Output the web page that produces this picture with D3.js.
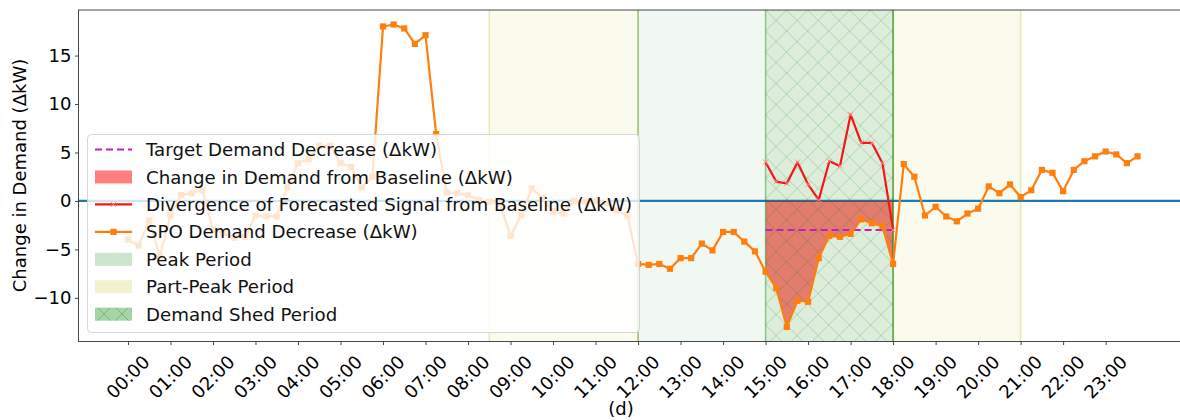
<!DOCTYPE html>
<html>
<head>
<meta charset="utf-8">
<script src="https://cdn.jsdelivr.net/npm/d3@7"></script>
<style>
  html, body { margin: 0; padding: 0; background: #fff; }
  svg { display: block; font-family: "DejaVu Sans", sans-serif; }
</style>
</head>
<body>
<svg id="chart" width="1180" height="420"></svg>
<script>
// Hour tick labels along the bottom axis
const hourLabels = ["00:00","01:00","02:00","03:00","04:00","05:00","06:00","07:00",
  "08:00","09:00","10:00","11:00","12:00","13:00","14:00","15:00","16:00","17:00",
  "18:00","19:00","20:00","21:00","22:00","23:00"];

// SPO demand decrease (ΔkW), one value every 15 minutes starting at 00:00
const spoValues = [
  -4.0, -4.6, -2.0, -5.7, -1.5, 0.6, 0.8, 1.1,
  -3.0, -3.3, -3.8, -3.7, -1.5, -1.6, -1.6, 1.4,
  3.9, 4.3, 5.7, 5.7, 3.9, 3.5, 1.4, 2.5,
  18.0, 18.2, 17.8, 16.2, 17.1, 6.9, 0.9, 0.8,
  0.6, 0.1, -0.1, -0.3, -3.6, -1.5, 1.3, 0.3,
  -1.1, -1.3, 0.0, -0.1, 0.0, -0.2, -1.0, -1.5,
  -6.5, -6.6, -6.5, -7.0, -5.9, -5.9, -4.4, -5.1,
  -3.2, -3.2, -4.2, -5.2, -7.3, -9.0, -13.0, -10.3,
  -10.4, -5.9, -3.6, -3.7, -3.4, -1.9, -2.3, -2.6,
  -6.5, 3.8, 2.5, -1.5, -0.6, -1.6, -2.1, -1.3,
  -0.8, 1.5, 0.8, 1.7, 0.4, 1.1, 3.2, 2.9,
  1.0, 3.2, 4.1, 4.6, 5.1, 4.8, 3.9, 4.6
];

// Divergence of the forecasted signal from baseline during the shed window (15-minute steps)
const divergenceValues = [4.0, 2.0, 1.8, 4.0, 1.7, 0.1, 4.1, 3.6, 8.9, 6.0, 6.0, 3.9, -3.0];

// Target demand decrease over the shed window
const targetValue = -3.0;

// Tariff periods, in hours of the day
const peakPeriod = [12, 18];
const partPeakPeriods = [[8.5, 12], [18, 21]];
const shedPeriod = [15, 18];

const yTickValues = [-10, -5, 0, 5, 10, 15];

const legendLabels = [
  "Target Demand Decrease (\u0394kW)",
  "Change in Demand from Baseline (\u0394kW)",
  "Divergence of Forecasted Signal from Baseline (\u0394kW)",
  "SPO Demand Decrease (\u0394kW)",
  "Peak Period",
  "Part-Peak Period",
  "Demand Shed Period"
];

const STEP = 0.25; // hours between samples

const svg = d3.select("#chart");
const W = 1180, H = 420;
const pL = 78, pR = 1188, pT = 10, pB = 341;

const x = d3.scaleLinear().domain([-1.1875, 24.9375]).range([pL - 0.5, pR]);
const y = d3.scaleLinear().domain([-14.45, 19.7]).range([pB, pT]);

const spo = spoValues.map((v, i) => ({ t: i * STEP, v }));
const shedStartIdx = Math.round(shedPeriod[0] / STEP);
const shedEndIdx = Math.round(shedPeriod[1] / STEP);
const divergence = divergenceValues.map((v, i) => ({ t: shedPeriod[0] + i * STEP, v }));
const changeFill = spo.slice(shedStartIdx, shedEndIdx + 1);

const defs = svg.append("defs");
defs.append("clipPath").attr("id", "plotClip")
  .append("rect").attr("x", pL).attr("y", pT).attr("width", pR - pL).attr("height", pB - pT);

const HS = 21; // hatch tile size
const hatch = defs.append("pattern").attr("id", "hatch")
  .attr("patternUnits", "userSpaceOnUse").attr("width", HS).attr("height", HS)
  .attr("x", x(shedPeriod[0])).attr("y", pT);
hatch.append("path")
  .attr("d", `M0,0L${HS},${HS}M${HS},0L0,${HS}M-2,2L2,-2M${HS - 2},${HS + 2}L${HS + 2},${HS - 2}M-2,${HS - 2}L2,${HS + 2}M${HS - 2},-2L${HS + 2},2`)
  .attr("stroke", "rgba(0,128,0,0.22)").attr("stroke-width", 1).attr("fill", "none");

const legendHatch = defs.append("pattern").attr("id", "legendHatch")
  .attr("patternUnits", "userSpaceOnUse").attr("width", 18).attr("height", 18)
  .attr("x", 95).attr("y", 305);
legendHatch.append("path")
  .attr("d", "M0,0L18,18M18,0L0,18")
  .attr("stroke", "rgba(0,128,0,0.3)").attr("stroke-width", 1).attr("fill", "none");

const plot = svg.append("g").attr("clip-path", "url(#plotClip)");

// Period shading
partPeakPeriods.forEach(p => {
  plot.append("rect")
    .attr("x", x(p[0])).attr("y", pT).attr("width", x(p[1]) - x(p[0])).attr("height", pB - pT)
    .attr("fill", "rgba(191,191,0,0.07)");
  [p[0], p[1]].forEach(e => {
    plot.append("line").attr("x1", x(e)).attr("x2", x(e)).attr("y1", pT).attr("y2", pB)
      .attr("stroke", "rgba(191,191,0,0.3)").attr("stroke-width", 1.5);
  });
});

plot.append("rect")
  .attr("x", x(peakPeriod[0])).attr("y", pT).attr("width", x(peakPeriod[1]) - x(peakPeriod[0])).attr("height", pB - pT)
  .attr("fill", "rgba(0,128,0,0.055)");
[peakPeriod[0], peakPeriod[1]].forEach(e => {
  plot.append("line").attr("x1", x(e)).attr("x2", x(e)).attr("y1", pT).attr("y2", pB)
    .attr("stroke", "rgba(0,128,0,0.35)").attr("stroke-width", 1.5);
});

// Zero baseline
plot.append("line").attr("x1", pL).attr("x2", pR).attr("y1", y(0)).attr("y2", y(0))
  .attr("stroke", "#1f77b4").attr("stroke-width", 2.2);

// Change in demand fill
plot.append("path").datum(changeFill)
  .attr("d", d3.area().x(d => x(d.t)).y0(y(0)).y1(d => y(d.v)))
  .attr("fill", "rgba(255,0,0,0.5)");

// Demand shed window, laid over the fill
plot.append("rect")
  .attr("x", x(shedPeriod[0])).attr("y", pT).attr("width", x(shedPeriod[1]) - x(shedPeriod[0])).attr("height", pB - pT)
  .attr("fill", "rgba(0,128,0,0.085)");
plot.append("rect")
  .attr("x", x(shedPeriod[0])).attr("y", pT).attr("width", x(shedPeriod[1]) - x(shedPeriod[0])).attr("height", pB - pT)
  .attr("fill", "url(#hatch)");
[shedPeriod[0], shedPeriod[1]].forEach(e => {
  plot.append("line").attr("x1", x(e)).attr("x2", x(e)).attr("y1", pT).attr("y2", pB)
    .attr("stroke", "rgba(0,128,0,0.4)").attr("stroke-width", 1.5);
});

// Target demand decrease
plot.append("line")
  .attr("x1", x(shedPeriod[0])).attr("x2", x(shedPeriod[1]))
  .attr("y1", y(targetValue)).attr("y2", y(targetValue))
  .attr("stroke", "#c020c0").attr("stroke-width", 2.2).attr("stroke-dasharray", "7,4");

// SPO demand decrease
const line = d3.line().x(d => x(d.t)).y(d => y(d.v));
plot.append("path").datum(spo).attr("d", line)
  .attr("fill", "none").attr("stroke", "#ff7f0e").attr("stroke-width", 2.2).attr("stroke-linejoin", "round");
plot.selectAll(".sq").data(spo).enter().append("rect")
  .attr("x", d => x(d.t) - 3.1).attr("y", d => y(d.v) - 3.1)
  .attr("width", 6.2).attr("height", 6.2).attr("fill", "#ff7f0e");

// Divergence of forecasted signal
plot.append("path").datum(divergence).attr("d", line)
  .attr("fill", "none").attr("stroke", "#f01818").attr("stroke-width", 2.2).attr("stroke-linejoin", "round");
plot.selectAll(".xm").data(divergence).enter().append("path")
  .attr("d", d => {
    const cx = x(d.t), cy = y(d.v), r = 2.6;
    return `M${cx - r},${cy - r}L${cx + r},${cy + r}M${cx - r},${cy + r}L${cx + r},${cy - r}`;
  })
  .attr("stroke", "#ff8a8a").attr("stroke-width", 1);

// Axes
const axisColor = "#333";
const yAxis = svg.append("g").attr("transform", `translate(${pL + 0.5},0)`)
  .call(d3.axisLeft(y).tickValues(yTickValues).tickSize(3.5).tickPadding(3.5));
yAxis.select(".domain").remove();
yAxis.selectAll("line").attr("stroke", axisColor).attr("stroke-width", 0.9);
yAxis.selectAll("text").attr("font-size", 18).attr("fill", "#000").attr("font-family", "DejaVu Sans");

const xAxis = svg.append("g").attr("transform", `translate(0,${pB + 0.5})`)
  .call(d3.axisBottom(x).tickValues(d3.range(hourLabels.length)).tickSize(3.5).tickFormat(() => ""));
xAxis.select(".domain").remove();
xAxis.selectAll("line").attr("stroke", axisColor).attr("stroke-width", 0.9);

svg.append("g").selectAll("text").data(hourLabels).enter().append("text")
  .attr("transform", (d, i) => `translate(${x(i)},377) rotate(-45)`)
  .attr("text-anchor", "middle").attr("dy", "0.35em")
  .attr("font-size", 18).attr("fill", "#000")
  .text(d => d);

// Spines
svg.append("line").attr("x1", pL + 0.5).attr("x2", pL + 0.5).attr("y1", pT).attr("y2", pB + 0.5)
  .attr("stroke", axisColor).attr("stroke-width", 0.9);
svg.append("line").attr("x1", pL).attr("x2", W).attr("y1", pB + 0.5).attr("y2", pB + 0.5)
  .attr("stroke", axisColor).attr("stroke-width", 0.9);
svg.append("line").attr("x1", pL).attr("x2", W).attr("y1", pT).attr("y2", pT)
  .attr("stroke", axisColor).attr("stroke-width", 0.9);

// Axis labels
svg.append("text").attr("transform", `translate(26,${(pT + pB) / 2}) rotate(-90)`)
  .attr("text-anchor", "middle").attr("font-size", 18).attr("fill", "#000")
  .text("Change in Demand (\u0394kW)");
svg.append("text").attr("x", 621).attr("y", 415)
  .attr("text-anchor", "middle").attr("font-size", 18).attr("fill", "#000")
  .text("(d)");

// Legend
const lg = svg.append("g");
lg.append("rect").attr("x", 87.5).attr("y", 134.5).attr("width", 552).attr("height", 198).attr("rx", 4)
  .attr("fill", "rgba(255,255,255,0.8)").attr("stroke", "rgba(204,204,204,0.8)").attr("stroke-width", 1);

const rowY = i => 149.5 + i * 27.45;
const hx0 = 95, hx1 = 132, tx = 146;

legendLabels.forEach((label, i) => {
  lg.append("text").attr("x", tx).attr("y", rowY(i)).attr("dy", "0.36em")
    .attr("font-size", 18.2).attr("fill", "#111").text(label);
});

// handles
lg.append("line").attr("x1", hx0).attr("x2", hx1).attr("y1", rowY(0)).attr("y2", rowY(0))
  .attr("stroke", "#c020c0").attr("stroke-width", 2.2).attr("stroke-dasharray", "7,4");
lg.append("rect").attr("x", hx0).attr("y", rowY(1) - 6.5).attr("width", hx1 - hx0).attr("height", 13)
  .attr("fill", "rgba(255,0,0,0.5)");
lg.append("line").attr("x1", hx0).attr("x2", hx1).attr("y1", rowY(2)).attr("y2", rowY(2))
  .attr("stroke", "#f01818").attr("stroke-width", 2.2);
lg.append("path").attr("d", (() => {
  const cx = (hx0 + hx1) / 2, cy = rowY(2), r = 2.6;
  return `M${cx - r},${cy - r}L${cx + r},${cy + r}M${cx - r},${cy + r}L${cx + r},${cy - r}`;
})()).attr("stroke", "#ff8a8a").attr("stroke-width", 1);
lg.append("line").attr("x1", hx0).attr("x2", hx1).attr("y1", rowY(3)).attr("y2", rowY(3))
  .attr("stroke", "#ff7f0e").attr("stroke-width", 2.2);
lg.append("rect").attr("x", (hx0 + hx1) / 2 - 3.1).attr("y", rowY(3) - 3.1).attr("width", 6.2).attr("height", 6.2)
  .attr("fill", "#ff7f0e");
lg.append("rect").attr("x", hx0).attr("y", rowY(4) - 6.5).attr("width", hx1 - hx0).attr("height", 13)
  .attr("fill", "#cce5cc");
lg.append("rect").attr("x", hx0).attr("y", rowY(5) - 6.5).attr("width", hx1 - hx0).attr("height", 13)
  .attr("fill", "#f2f2cc");
lg.append("rect").attr("x", hx0).attr("y", rowY(6) - 6.5).attr("width", hx1 - hx0).attr("height", 13)
  .attr("fill", "#a8d3a8");
lg.append("rect").attr("x", hx0).attr("y", rowY(6) - 6.5).attr("width", hx1 - hx0).attr("height", 13)
  .attr("fill", "url(#legendHatch)");
</script>
</body>
</html>
